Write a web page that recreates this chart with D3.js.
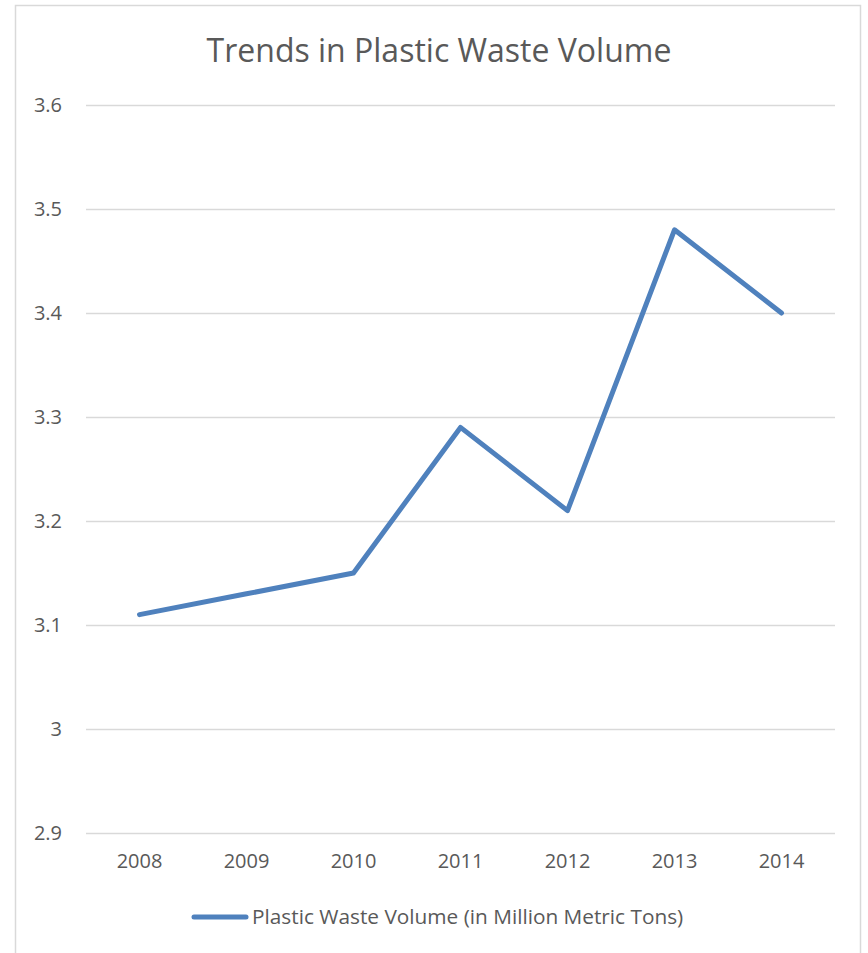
<!DOCTYPE html>
<html><head><meta charset="utf-8">
<script src="https://cdn.jsdelivr.net/npm/d3@7"></script>
<style>body{margin:0;background:#fff}svg{display:block}</style>
</head><body>
<script>
const categories = ["2008","2009","2010","2011","2012","2013","2014"];
const values = [3.11, 3.13, 3.15, 3.29, 3.21, 3.48, 3.40];
const yTicks = [2.9, 3.0, 3.1, 3.2, 3.3, 3.4, 3.5, 3.6];
const seriesName = "Plastic Waste Volume (in Million Metric Tons)";
const title = "Trends in Plastic Waste Volume";

const W = 868, H = 953;
const font = "'Open Sans', 'Noto Sans', sans-serif";
const svg = d3.select("body").append("svg").attr("width", W).attr("height", H);

svg.append("rect").attr("x", 15.5).attr("y", 5.5).attr("width", 845).attr("height", 960)
  .attr("fill", "#fff").attr("stroke", "#d9d9d9").attr("stroke-width", 1.5);

const L = 86, R = 835, T = 105, B = 833;
const x = d3.scaleBand().domain(categories).range([L, R]);
const y = d3.scaleLinear().domain([2.9, 3.6]).range([B, T]);

const yAxis = d3.axisLeft(y).tickValues(yTicks).tickSize(-(R - L)).tickPadding(24)
  .tickFormat(d => d3.format("")(+d.toFixed(1)));
const gy = svg.append("g").attr("transform", `translate(${L},0)`).call(yAxis);
gy.select(".domain").remove();
gy.selectAll(".tick line").attr("stroke", "#d9d9d9").attr("stroke-width", 1.5);
gy.selectAll(".tick text").attr("fill", "#595959").style("font-family", font).style("font-size", "20px");

const xAxis = d3.axisBottom(x).tickSize(0).tickPadding(21);
const gx = svg.append("g").attr("transform", `translate(0,${B})`).call(xAxis);
gx.select(".domain").remove();
gx.selectAll(".tick text").attr("fill", "#595959").style("font-family", font).style("font-size", "20px");

const line = d3.line().x((d, i) => x(categories[i]) + x.bandwidth() / 2).y(d => y(d));
svg.append("path").datum(values).attr("d", line).attr("fill", "none")
  .attr("stroke", "#4f81bd").attr("stroke-width", 5).attr("stroke-linecap", "round").attr("stroke-linejoin", "round");

svg.append("text").attr("x", 439).attr("y", 62).attr("text-anchor", "middle")
  .attr("fill", "#595959").style("font-family", font).style("font-size", "32px").text(title);

const lg = svg.append("g");
lg.append("line").attr("x1", 194).attr("x2", 246).attr("y1", 917).attr("y2", 917)
  .attr("stroke", "#4f81bd").attr("stroke-width", 5).attr("stroke-linecap", "round");
lg.append("text").attr("x", 252).attr("y", 924).attr("fill", "#595959")
  .style("font-family", font).style("font-size", "20.8px").text(seriesName);
</script>
</body></html>
